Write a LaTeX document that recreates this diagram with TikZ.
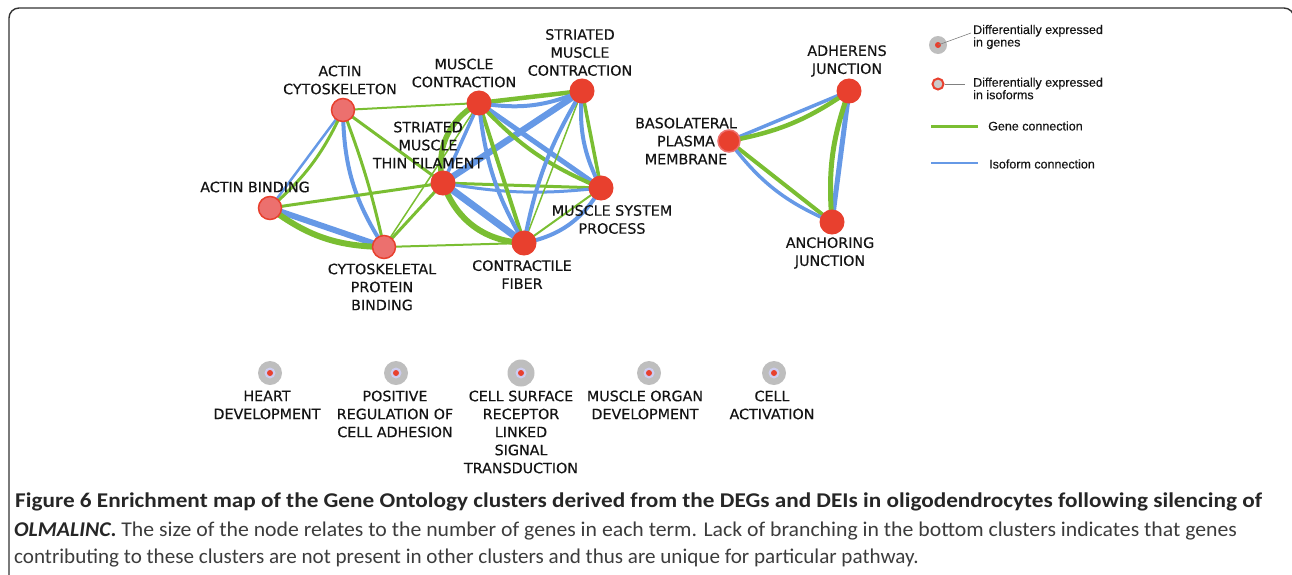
\documentclass[tikz,border=0pt]{standalone}
\usepackage{fontspec}
\setmainfont{DejaVu Sans}
\newfontfamily\lblfont{DejaVu Sans}[FakeBold=0.35]
\newfontfamily\legendfont{Liberation Sans}[FakeBold=0.3]
\newfontfamily\capfont{Carlito}
\usetikzlibrary{backgrounds}
\definecolor{gcol}{RGB}{122,190,50}
\definecolor{bcol}{RGB}{102,153,230}
\definecolor{nred}{RGB}{232,64,46}
\definecolor{nsal}{RGB}{236,112,110}
\definecolor{ngray}{RGB}{190,190,190}
\definecolor{nlav}{RGB}{205,205,240}
\definecolor{txt}{RGB}{20,20,20}
\definecolor{captxt}{RGB}{60,60,60}
\pgfdeclarelayer{edges}
\pgfsetlayers{edges,main}
\tikzset{
  gnode/.style={circle,fill=nred,draw=nred,line width=1pt,minimum size=24pt,inner sep=0pt},
  inode/.style={circle,fill=nsal,draw=nred,line width=1.5pt,minimum size=23pt,inner sep=0pt},
  bnode/.style={circle,fill=nred,draw=nsal,line width=1.5pt,minimum size=22pt,inner sep=0pt},
  lbl/.style={align=center,text=txt,font=\lblfont\fontsize{14.3}{18}\selectfont,inner sep=0pt},
  ge/.style={draw=gcol},
  be/.style={draw=bcol},
  leg/.style={font=\legendfont\fontsize{12.5}{12.5}\selectfont,text=txt,anchor=west,align=left,inner sep=0pt},
  capl/.style={anchor=base west,inner sep=0pt,text=captxt,font=\capfont\fontsize{21}{21}\selectfont},
}
\begin{document}
\begin{tikzpicture}[x=1pt,y=-1pt]
\useasboundingbox (0,0) rectangle (1292,574);
\clip (0,0) rectangle (1292,574);
\draw[line width=1.4pt,draw=black!80,rounded corners=10pt] (9,600) -- (9,8) -- (1294,8) -- (1294,600);

% left cluster nodes
\node[inode] (AC) at (343,110) {};
\node[gnode] (MC) at (479,103) {};
\node[gnode] (SMC) at (582,91) {};
\node[gnode] (TF) at (443,183) {};
\node[gnode] (MSP) at (601,188) {};
\node[gnode] (CF) at (524,243) {};
\node[inode] (AB) at (270,208) {};
\node[inode] (CPB) at (384,247) {};
% right cluster
\node[gnode] (AJ) at (849,91) {};
\node[bnode] (BPM) at (729,141) {};
\node[gnode] (ANJ) at (832,222) {};

\begin{pgfonlayer}{edges}
\draw[ge,line width=2pt] (AC.center) -- (MC.center);
\draw[be,line width=2.5pt] (AC.center) -- (AB.center);
\draw[ge,line width=3pt] (AC.center) to[bend left=12] (AB.center);
\draw[be,line width=4pt] (AC.center) to[bend right=16] (CPB.center);
\draw[ge,line width=3pt] (AC.center) to[bend left=4] (CPB.center);
\draw[ge,line width=3pt] (AC.center) -- (TF.center);
\draw[ge,line width=3pt] (AB.center) -- (TF.center);
\draw[be,line width=6pt] (AB.center) -- (CPB.center);
\draw[ge,line width=6pt] (AB.center) to[bend right=18] (CPB.center);
\draw[ge,line width=3pt] (CPB.center) -- (TF.center);
\draw[ge,line width=1.5pt] (CPB.center) -- (MC.center);
\draw[ge,line width=2pt] (CPB.center) -- (CF.center);
\draw[be,line width=3.5pt] (MC.center) -- (TF.center);
\draw[ge,line width=5.5pt] (MC.center) to[bend right=38] (TF.center);
\draw[be,line width=7pt] (TF.center) -- (CF.center);
\draw[ge,line width=6pt] (TF.center) to[bend right=34] (CF.center);
\draw[be,line width=6.5pt] (TF.center) -- (SMC.center);
\draw[ge,line width=3pt] (TF.center) -- (MSP.center);
\draw[be,line width=3pt] (TF.center) to[bend right=8] (MSP.center);
\draw[ge,line width=4.5pt] (MC.center) -- (SMC.center);
\draw[be,line width=4pt] (MC.center) to[bend right=16] (SMC.center);
\draw[be,line width=5pt] (MC.center) -- (MSP.center);
\draw[ge,line width=4pt] (MC.center) to[bend right=12] (MSP.center);
\draw[ge,line width=4pt] (MC.center) -- (CF.center);
\draw[be,line width=4pt] (MC.center) to[bend right=12] (CF.center);
\draw[ge,line width=3.5pt] (SMC.center) -- (MSP.center);
\draw[be,line width=4pt] (SMC.center) to[bend right=16] (MSP.center);
\draw[ge,line width=1.5pt] (SMC.center) -- (CF.center);
\draw[be,line width=4pt] (SMC.center) to[bend right=10] (CF.center);
\draw[ge,line width=2pt] (MSP.center) -- (CF.center);
\draw[be,line width=4pt] (MSP.center) to[bend left=24] (CF.center);
% right cluster
\draw[be,line width=3.5pt] (BPM.center) -- (AJ.center);
\draw[ge,line width=4.5pt] (BPM.center) to[bend right=12] (AJ.center);
\draw[ge,line width=4pt] (BPM.center) -- (ANJ.center);
\draw[be,line width=3.5pt] (BPM.center) to[bend right=15] (ANJ.center);
\draw[be,line width=5pt] (AJ.center) -- (ANJ.center);
\draw[ge,line width=5pt] (AJ.center) to[bend right=12] (ANJ.center);
\end{pgfonlayer}

% labels
\node[lbl] (lAC) at (340,80) {ACTIN\\CYTOSKELETON};
\node[lbl] (lMC) at (464,73) {MUSCLE\\CONTRACTION};
\node[lbl] (lSMC) at (580,52.5) {STRIATED\\MUSCLE\\CONTRACTION};
\node[lbl] (lTF) at (428,145) {STRIATED\\MUSCLE\\THIN FILAMENT};
\node[lbl] (lAB) at (255,187) {ACTIN BINDING};
\node[lbl] (lMSP) at (612,219.5) {MUSCLE SYSTEM\\PROCESS};
\node[lbl] (lCF) at (522,274.5) {CONTRACTILE\\FIBER};
\node[lbl] (lCPB) at (382,287) {CYTOSKELETAL\\PROTEIN\\BINDING};
\node[lbl] (lAJ) at (847,61) {ADHERENS\\JUNCTION};
\node[lbl] (lBPM) at (686,141) {BASOLATERAL\\PLASMA\\MEMBRANE};
\node[lbl] (lANJ) at (830,253) {ANCHORING\\JUNCTION};

% isolated nodes
\foreach \nm/\x/\r in {HD/270/12, PR/396/12, CS/521/13.5, MO/649/12, CA/774/12} {
  \node[circle,fill=ngray,minimum size=2*\r pt,inner sep=0pt] (\nm) at (\x,373) {};
  \fill[nlav] (\nm.center) circle (5.5pt);
  \fill[nred] (\nm.center) circle (3pt);
}
\node[lbl] (lHD) at (267,405) {HEART\\DEVELOPMENT};
\node[lbl] (lPR) at (395,414) {POSITIVE\\REGULATION OF\\CELL ADHESION};
\node[lbl] (lCS) at (521,432) {CELL SURFACE\\RECEPTOR\\LINKED\\SIGNAL\\TRANSDUCTION};
\node[lbl] (lMO) at (645,405) {MUSCLE ORGAN\\DEVELOPMENT};
\node[lbl] (lCA) at (772,405) {CELL\\ACTIVATION};

% legend
\node[circle,fill=ngray,minimum size=18pt,inner sep=0pt] (L1) at (938,45) {};
\fill[nred] (L1.center) circle (3pt);
\coordinate (L1e) at (971,33);
\draw[gray,line width=0.6pt] (L1.center) -- (L1e);
\node[leg] (L1t) at (973,37) {Differentially expressed\\in genes};
\node[circle,fill=ngray!80,draw=nred,line width=2pt,minimum size=11pt,inner sep=0pt] (L2) at (938,84) {};
\coordinate (L2e) at (965,84);
\draw[gray,line width=0.6pt] (L2.east) -- (L2e);
\node[leg] (L2t) at (973,88.5) {Differentially expressed\\in isoforms};
\coordinate (G1) at (931,126); \coordinate (G2) at (978,126);
\draw[ge,line width=3pt] (G1) -- (G2);
\node[leg] (G3) at (988,126) {Gene connection};
\coordinate (B1) at (931,163); \coordinate (B2) at (978,163);
\draw[be,line width=2pt] (B1) -- (B2);
\node[leg] (B3) at (989,164) {Isoform connection};

% caption
\node[capl] (c1) at (15,507) {\scalebox{1.106}[1]{\color{black!85}\bfseries Figure 6 Enrichment map of the Gene Ontology clusters derived from the DEGs and DEIs in oligodendrocytes following silencing of}};
\node[capl] (c2) at (14,536) {\scalebox{1.035}[1]{{\color{black!85}\bfseries\itshape OLMALINC}{\color{black!85}\bfseries .} The size of the node relates to the number of genes in each term. Lack of branching in the bottom clusters indicates that genes}};
\node[capl] (c3) at (14,563) {\scalebox{1.005}[1]{contributing to these clusters are not present in other clusters and thus are unique for particular pathway.}};
\end{tikzpicture}
\end{document}
